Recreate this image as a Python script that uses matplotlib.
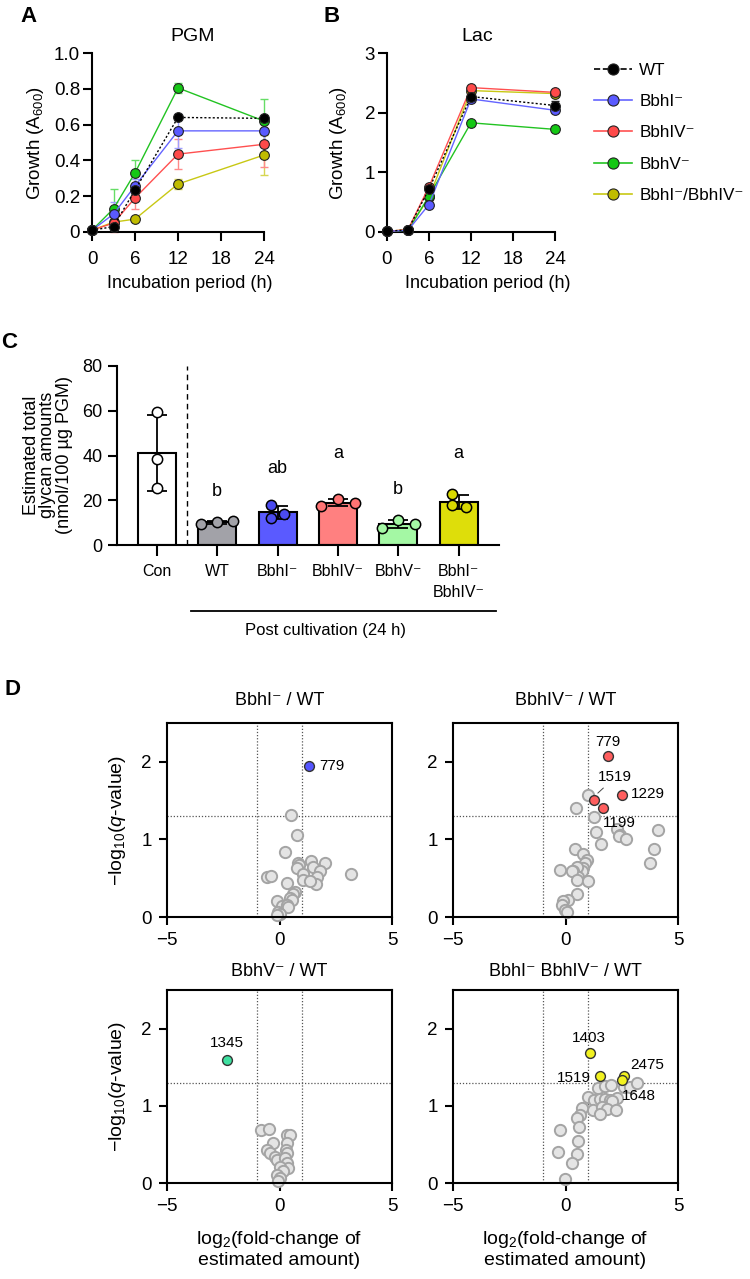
import numpy as np
import matplotlib
matplotlib.use("Agg")
import matplotlib.pyplot as plt
import matplotlib.transforms as mtransforms
from matplotlib.lines import Line2D

# ---- data: growth curves (A, B) ----
time_h = [0, 3, 6, 12, 24]
strains = ["WT", "BbhI⁻", "BbhIV⁻", "BbhV⁻", "BbhI⁻/BbhIV⁻"]

pgm_wt = [0.01, 0.03, 0.235, 0.64, 0.635]
pgm_bbhI = [0.01, 0.10, 0.257, 0.565, 0.565]
pgm_bbhIV = [0.01, 0.05, 0.19, 0.435, 0.49]
pgm_bbhV = [0.01, 0.13, 0.33, 0.805, 0.62]
pgm_dbl = [0.01, 0.055, 0.072, 0.268, 0.43]
pgm_wt_sd = [0, 0.02, 0.03, 0.01, 0.015]
pgm_bbhI_sd = [0, 0.07, 0.04, 0.095, 0.055]
pgm_bbhIV_sd = [0, 0.05, 0.06, 0.085, 0.125]
pgm_bbhV_sd = [0, 0.11, 0.075, 0.03, 0.125]
pgm_dbl_sd = [0, 0.01, 0.01, 0.03, 0.11]

lac_wt = [0.01, 0.04, 0.72, 2.27, 2.12]
lac_bbhI = [0.01, 0.03, 0.46, 2.23, 2.04]
lac_bbhIV = [0.01, 0.04, 0.76, 2.42, 2.34]
lac_bbhV = [0.01, 0.03, 0.60, 1.83, 1.72]
lac_dbl = [0.01, 0.04, 0.58, 2.37, 2.32]
lac_wt_sd = [0, 0.01, 0.03, 0.04, 0.08]
lac_bbhI_sd = [0, 0.01, 0.03, 0.05, 0.04]
lac_bbhIV_sd = [0, 0.01, 0.04, 0.03, 0.03]
lac_bbhV_sd = [0, 0.01, 0.02, 0.03, 0.03]
lac_dbl_sd = [0, 0.01, 0.03, 0.04, 0.03]

# ---- data: glycan amounts (C) ----
c_groups = ["Con", "WT", "BbhI⁻", "BbhIV⁻", "BbhV⁻", "BbhI⁻\nBbhIV⁻"]
c_reps = [[59.5, 38.5, 25.5],
          [9.4, 10.4, 10.6],
          [17.8, 13.8, 12.2],
          [17.5, 20.5, 18.9],
          [7.6, 11.3, 9.6],
          [22.6, 17.0, 18.0]]
c_letters = ["", "b", "ab", "a", "b", "a"]

# ---- data: volcano plots (D) ----
d1_x = [0.51, 0.79, 0.24, 0.80, 0.87, 0.76, 1.40, 1.47, 2.0, 1.8, 1.65, 1.62, 1.06, 1.06, 1.36,
        3.18, -0.54, -0.38, 0.32, 0.69, 0.58, 0.47, 0.54, -0.13, 0.10, 0.32, 0.39, -0.05, 0.02, -0.10]
d1_y = [1.32, 1.06, 0.84, 0.69, 0.67, 0.63, 0.72, 0.65, 0.70, 0.59, 0.52, 0.42, 0.55, 0.48, 0.46,
        0.55, 0.52, 0.53, 0.44, 0.32, 0.29, 0.24, 0.22, 0.20, 0.14, 0.16, 0.13, 0.06, 0.04, 0.03]
d1_hit_x = [1.33]
d1_hit_y = [1.95]
d1_hit_lab = ["779"]

d2_x = [1.01, 0.47, 1.28, 1.34, 1.56, 2.27, 2.42, 2.38, 2.69, 4.13, 3.95, 3.76, 0.42, 0.76, 0.94, 0.87,
        0.79, 0.72, 0.50, 0.35, 0.57, -0.24, 0.27, 0.50, 1.01, 0.50, 0.13, -0.10, -0.17, -0.02, 0.05]
d2_y = [1.57, 1.40, 1.29, 1.09, 0.94, 1.13, 1.06, 1.04, 1.00, 1.12, 0.88, 0.69, 0.87, 0.81, 0.74, 0.70,
        0.63, 0.59, 0.65, 0.59, 0.52, 0.61, 0.59, 0.48, 0.46, 0.29, 0.22, 0.20, 0.16, 0.09, 0.07]
d2_hit_x = [1.87, 1.25, 2.53, 1.65]
d2_hit_y = [2.08, 1.51, 1.57, 1.40]
d2_hit_lab = ["779", "1519", "1229", "1199"]

d3_x = [-0.82, -0.45, 0.32, 0.47, -0.27, 0.35, -0.54, -0.42, 0.29, 0.35, -0.20, -0.13, 0.24, 0.32,
        0.39, 0.02, 0.17, -0.13, 0.02, -0.05]
d3_y = [0.69, 0.70, 0.62, 0.62, 0.52, 0.52, 0.43, 0.39, 0.43, 0.39, 0.34, 0.30, 0.32, 0.26,
        0.19, 0.21, 0.15, 0.10, 0.06, 0.02]
d3_hit_x = [-2.32]
d3_hit_y = [1.59]
d3_hit_lab = ["1345"]

d4_x = [1.43, 1.76, 2.01, 2.60, 2.87, 3.19, 1.01, 1.27, 1.53, 1.76, 1.98, 2.27, 2.05, 1.24, 1.61,
        1.83, 1.53, 2.24, 0.72, 0.64, 0.53, 0.61, -0.24, 0.57, -0.32, 0.50, 0.27, -0.02]
d4_y = [1.23, 1.26, 1.27, 1.24, 1.25, 1.29, 1.11, 1.08, 1.09, 1.09, 1.08, 1.10, 1.06, 0.95, 0.99,
        0.96, 0.90, 0.94, 0.97, 0.88, 0.84, 0.72, 0.69, 0.54, 0.40, 0.38, 0.26, 0.05]
d4_hit_x = [1.09, 1.53, 2.61, 2.50]
d4_hit_y = [1.69, 1.39, 1.39, 1.34]
d4_hit_lab = ["1403", "1519", "2475", "1648"]

# ---- style ----
plt.rcParams['font.family'] = ['Liberation Sans', 'DejaVu Sans']
plt.rcParams['mathtext.fontset'] = 'custom'
plt.rcParams['mathtext.rm'] = 'Liberation Sans'
plt.rcParams['mathtext.it'] = 'Liberation Sans:italic'
plt.rcParams['font.size'] = 13
plt.rcParams['axes.linewidth'] = 1.5
plt.rcParams['xtick.major.width'] = 1.5
plt.rcParams['ytick.major.width'] = 1.5
plt.rcParams['xtick.major.size'] = 6.5
plt.rcParams['ytick.major.size'] = 6.5
plt.rcParams['xtick.labelsize'] = 13.5
plt.rcParams['ytick.labelsize'] = 13.5

line_cols = ["black", "#6464ff", "#ff5050", "#22c322", "#c8c814"]
face_cols = ["black", "#5a5aff", "#ff4a4a", "#14c814", "#c0bc00"]
err_cols = ["#222222", "#a0a0ff", "#ff8a8a", "#66dd66", "#d6d650"]
line_styles = [(0, (1.5, 1.5)), "-", "-", "-", "-"]

fig = plt.figure(figsize=(7.5, 12.79), dpi=100)
W, H = 750.0, 1279.0


def place(x0, y0, x1, y1):
    # pixel box (top-left origin) -> figure axes
    return fig.add_axes([x0 / W, 1 - y1 / H, (x1 - x0) / W, (y1 - y0) / H])


def growth_panel(ax, vals, sds, ymax, yticks, yticklabels):
    order = [4, 3, 2, 1, 0]  # WT drawn last, on top
    for i in order:
        ax.errorbar(time_h, vals[i], yerr=sds[i], fmt='none', ecolor=err_cols[i],
                    elinewidth=1, capsize=3, capthick=1, clip_on=False, zorder=2)
        ax.plot(time_h, vals[i], color=line_cols[i], lw=1, ls=line_styles[i], marker='o',
                ms=7, mfc=face_cols[i], mec='#222222', mew=0.8, clip_on=False, zorder=3)
    ax.set_xlim(0, 24)
    ax.set_ylim(0, ymax)
    ax.set_xticks([0, 6, 12, 18, 24])
    ax.set_yticks(yticks)
    ax.set_yticklabels(yticklabels)
    ax.tick_params(axis='x', pad=7)
    ax.tick_params(axis='y', pad=2)
    ax.spines['top'].set_visible(False)
    ax.spines['right'].set_visible(False)
    ax.set_xlabel("Incubation period (h)", fontsize=13)
    ax.set_ylabel("Growth (A$_{600}$)", fontsize=13.5)


# A
ax_a = place(92, 53, 264, 232)
growth_panel(ax_a, [pgm_wt, pgm_bbhI, pgm_bbhIV, pgm_bbhV, pgm_dbl],
             [pgm_wt_sd, pgm_bbhI_sd, pgm_bbhIV_sd, pgm_bbhV_sd, pgm_dbl_sd],
             1.0, [0, 0.2, 0.4, 0.6, 0.8, 1.0], ["0", "0.2", "0.4", "0.6", "0.8", "1.0"])
ax_a.text(14, 1.09, "PGM", ha='center', va='center', fontsize=14)
ax_a.xaxis.set_label_coords(0.57, -0.24)
ax_a.yaxis.set_label_coords(-0.265, 0.5)

# B
ax_b = place(387, 53, 555, 232)
growth_panel(ax_b, [lac_wt, lac_bbhI, lac_bbhIV, lac_bbhV, lac_dbl],
             [lac_wt_sd, lac_bbhI_sd, lac_bbhIV_sd, lac_bbhV_sd, lac_dbl_sd],
             3.0, [0, 1, 2, 3], ["0", "1", "2", "3"])
ax_b.text(12.9, 3.27, "Lac", ha='center', va='center', fontsize=14)
ax_b.xaxis.set_label_coords(0.6, -0.24)
ax_b.yaxis.set_label_coords(-0.225, 0.5)

# legend
handles = []
for i in range(5):
    handles.append(Line2D([], [], color=line_cols[i], lw=1.2,
                          ls='--' if i == 0 else '-', marker='o', ms=8,
                          mfc=face_cols[i], mec='#222222', mew=0.8))
fig.legend(handles, strains, loc='upper left', bbox_to_anchor=(594 / W, 1 - 63 / H),
           frameon=False, borderpad=0, borderaxespad=0, handlelength=2.2,
           handletextpad=0.45, labelspacing=0.95, fontsize=12.3)

# C (condensed-looking text in the original; use a smaller regular face)
ax_c = place(117, 366, 499, 545)
xc = np.arange(len(c_groups))
means = [np.mean(r) for r in c_reps]
sds = [np.std(r, ddof=1) for r in c_reps]
bar_cols = ["white", "#a2a2a8", "#5a5aff", "#ff8080", "#a4f8a4", "#dede0a"]
pt_cols = ["white", "#a2a2a8", "#4b4bf0", "#ff7474", "#a4f8a4", "#d8d800"]
jitter = [[0, 0, 0], [-0.27, 0, 0.27], [-0.11, 0.1, -0.11], [-0.28, 0, 0.28],
          [-0.27, 0, 0.27], [-0.11, 0.12, -0.11]]
ax_c.bar(xc, means, width=0.63, color=bar_cols, edgecolor='black', linewidth=1.5, zorder=2)
ax_c.errorbar(xc, means, yerr=sds, fmt='none', ecolor='black', elinewidth=1.3,
              capsize=7, capthick=1.3, zorder=3)
for i, reps in enumerate(c_reps):
    ax_c.scatter(xc[i] + np.array(jitter[i]), reps, s=55, color=pt_cols[i],
                 edgecolor='black', linewidth=1.1, zorder=4, clip_on=False)
letter_y = [0, 24, 34, 41, 25, 41]
for i, lab in enumerate(c_letters):
    if lab:
        ax_c.text(xc[i], letter_y[i], lab, ha='center', va='center', fontsize=13)
ax_c.axvline(0.5, color='black', lw=1, ls=(0, (4, 3)))
ax_c.set_xlim(-0.66, 5.67)
ax_c.set_ylim(0, 80)
ax_c.set_yticks([0, 20, 40, 60, 80])
ax_c.set_xticks(xc)
ax_c.set_xticklabels(c_groups, fontsize=11.5, linespacing=1.45)
ax_c.tick_params(axis='x', length=8, pad=6)
ax_c.tick_params(axis='y', length=6.5, pad=4, labelsize=13)
ax_c.spines['top'].set_visible(False)
ax_c.spines['right'].set_visible(False)
fig.text(48 / W, 1 - 455 / H, "Estimated total\nglycan amounts\n(nmol/100 µg PGM)",
         rotation=90, ha='center', va='center', fontsize=13, linespacing=0.95)
trans = mtransforms.blended_transform_factory(ax_c.transData, ax_c.transAxes)
ax_c.plot([0.56, 5.62], [-0.369, -0.369], color='black', lw=1.3, transform=trans, clip_on=False)
ax_c.text(2.8, -0.48, "Post cultivation (24 h)", transform=trans, ha='center', va='center',
          fontsize=12)

# D
d_panels = [
    (167, 723, 392, 917, d1_x, d1_y, d1_hit_x, d1_hit_y, "#5555ff", "BbhI⁻ / WT"),
    (453, 723, 678, 917, d2_x, d2_y, d2_hit_x, d2_hit_y, "#ff5e5e", "BbhIV⁻ / WT"),
    (167, 990, 392, 1183, d3_x, d3_y, d3_hit_x, d3_hit_y, "#3ee0a0", "BbhV⁻ / WT"),
    (453, 990, 678, 1183, d4_x, d4_y, d4_hit_x, d4_hit_y, "#f2f220", "BbhI⁻ BbhIV⁻ / WT"),
]
d_axes = []
for k, (x0, y0, x1, y1, gx, gy, hx, hy, hc, title) in enumerate(d_panels):
    ax = place(x0, y0, x1, y1)
    d_axes.append(ax)
    ax.axvline(-1, color='#555555', lw=0.9, ls=(0, (1, 1.5)), zorder=1)
    ax.axvline(1, color='#555555', lw=0.9, ls=(0, (1, 1.5)), zorder=1)
    ax.axhline(-np.log10(0.05), color='#555555', lw=0.9, ls=(0, (1, 1.5)), zorder=1)
    ax.scatter(gx, gy, s=66, color='#e4e4e4', edgecolor='#a4a4a4', linewidth=1.4, zorder=2,
               clip_on=False)
    ax.scatter(hx, hy, s=50, color=hc, edgecolor='#333333', linewidth=1.0, zorder=3)
    ax.set_xlim(-5, 5)
    ax.set_ylim(0, 2.5)
    ax.set_xticks([-5, 0, 5])
    ax.set_yticks([0, 1, 2])
    ax.tick_params(length=6, pad=5)
    ax.text(0.5, 1.115 if k < 2 else 1.097, title, transform=ax.transAxes,
            ha='center', va='center', fontsize=13)
    ax.set_ylabel("−log$_{10}$($q$-value)" if k in (0, 2) else "", fontsize=14)
    ax.yaxis.set_label_coords(-0.175, 0.5)
    if k >= 2:
        ax.set_xlabel("log$_2$(fold-change of\nestimated amount)", fontsize=14, linespacing=1.1)
        ax.xaxis.set_label_coords(0.5, -0.24)

ann = dict(fontsize=11)
d_axes[0].text(1.75, 1.94, d1_hit_lab[0], ha='left', va='center', **ann)
d_axes[1].text(1.87, 2.26, d2_hit_lab[0], ha='center', va='center', **ann)
d_axes[1].annotate(d2_hit_lab[1], xy=(1.3, 1.56), xytext=(2.2, 1.80), ha='center', va='center',
                   arrowprops=dict(arrowstyle='-', color='#444444', lw=0.7,
                                   shrinkA=1, shrinkB=3), **ann)
d_axes[1].text(2.9, 1.58, d2_hit_lab[2], ha='left', va='center', **ann)
d_axes[1].text(2.38, 1.21, d2_hit_lab[3], ha='center', va='center', **ann)
d_axes[2].text(-2.32, 1.81, d3_hit_lab[0], ha='center', va='center', **ann)
d_axes[3].text(1.04, 1.88, d4_hit_lab[0], ha='center', va='center', **ann)
d_axes[3].text(1.12, 1.36, d4_hit_lab[1], ha='right', va='center', **ann)
d_axes[3].text(3.65, 1.53, d4_hit_lab[2], ha='center', va='center', **ann)
d_axes[3].text(3.27, 1.13, d4_hit_lab[3], ha='center', va='center', **ann)

# panel letters
for lab, px, py in [("A", 28, 17), ("B", 332, 17), ("C", 9, 342), ("D", 12, 690)]:
    fig.text(px / W, 1 - py / H, lab, fontsize=16, fontweight='bold', ha='center', va='center')

fig.savefig("out.png", dpi=100)
